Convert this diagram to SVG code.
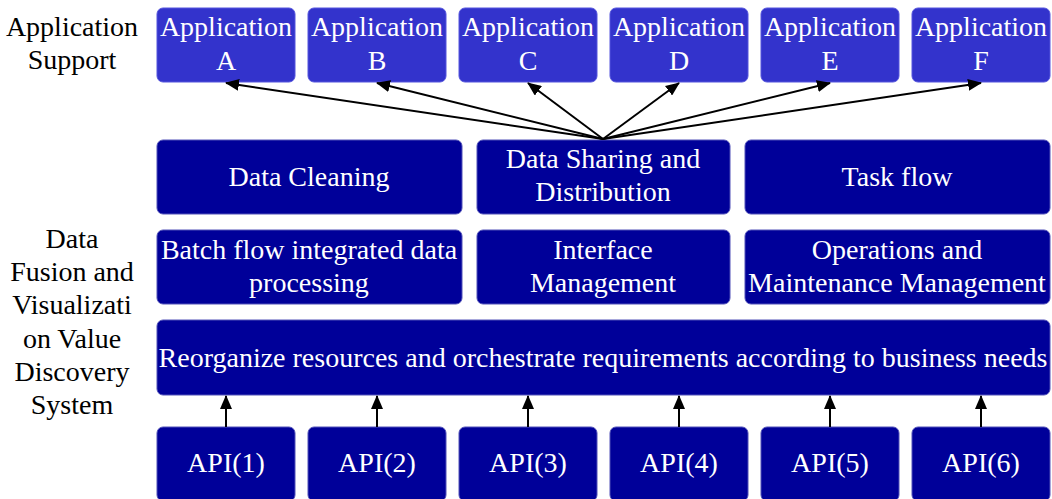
<svg xmlns="http://www.w3.org/2000/svg" width="1052" height="499" viewBox="0 0 1052 499">
<style>
.app{fill:#3333cc;stroke:#5555dd;stroke-width:1}
.blk{fill:#000099;stroke:#5050b8;stroke-width:1}
text{font-family:"Liberation Serif","Times New Roman",serif;font-size:28px;text-anchor:middle}
.t{fill:#ffffff}
.l{fill:#000000}
.c{stroke:#000;stroke-width:2;fill:none;marker-end:url(#ah)}
</style>
<defs>
<marker id="ah" viewBox="0 0 14 12" refX="13" refY="6" markerWidth="14" markerHeight="12" markerUnits="userSpaceOnUse" orient="auto">
<path d="M0,0 L14,6 L0,12 Z" fill="#000"/>
</marker>
</defs>
<g id="label-app-support">
<text class="l" x="72" y="36">Application</text>
<text class="l" x="72" y="69">Support</text>
</g>
<g id="label-data-fusion">
<text class="l" x="72" y="248">Data</text>
<text class="l" x="72" y="281">Fusion and</text>
<text class="l" x="72" y="314">Visualizati</text>
<text class="l" x="72" y="348">on Value</text>
<text class="l" x="72" y="381">Discovery</text>
<text class="l" x="72" y="414">System</text>
</g>
<g id="app-a"><rect class="app" x="157" y="8" width="138" height="74" rx="6"/><text class="t" x="226" y="36">Application</text><text class="t" x="226" y="70">A</text></g>
<g id="app-b"><rect class="app" x="308" y="8" width="138" height="74" rx="6"/><text class="t" x="377" y="36">Application</text><text class="t" x="377" y="70">B</text></g>
<g id="app-c"><rect class="app" x="459" y="8" width="138" height="74" rx="6"/><text class="t" x="528" y="36">Application</text><text class="t" x="528" y="70">C</text></g>
<g id="app-d"><rect class="app" x="610" y="8" width="138" height="74" rx="6"/><text class="t" x="679" y="36">Application</text><text class="t" x="679" y="70">D</text></g>
<g id="app-e"><rect class="app" x="761" y="8" width="138" height="74" rx="6"/><text class="t" x="830" y="36">Application</text><text class="t" x="830" y="70">E</text></g>
<g id="app-f"><rect class="app" x="912" y="8" width="138" height="74" rx="6"/><text class="t" x="981" y="36">Application</text><text class="t" x="981" y="70">F</text></g>
<g id="data-cleaning"><rect class="blk" x="157" y="140" width="305" height="74" rx="6"/><text class="t" x="309" y="186">Data Cleaning</text></g>
<g id="data-sharing"><rect class="blk" x="477" y="140" width="253" height="74" rx="6"/><text class="t" x="603" y="168">Data Sharing and</text><text class="t" x="603" y="201">Distribution</text></g>
<g id="task-flow"><rect class="blk" x="745" y="140" width="305" height="74" rx="6"/><text class="t" x="897" y="186">Task flow</text></g>
<g id="batch-flow"><rect class="blk" x="157" y="230" width="305" height="74" rx="6"/><text class="t" x="309" y="259">Batch flow integrated data</text><text class="t" x="309" y="292">processing</text></g>
<g id="interface-mgmt"><rect class="blk" x="477" y="230" width="253" height="74" rx="6"/><text class="t" x="603" y="259">Interface</text><text class="t" x="603" y="292">Management</text></g>
<g id="ops-mgmt"><rect class="blk" x="745" y="230" width="305" height="74" rx="6"/><text class="t" x="897" y="259">Operations and</text><text class="t" x="897" y="292">Maintenance Management</text></g>
<g id="reorganize"><rect class="blk" x="157" y="320" width="893" height="75" rx="6"/><text class="t" x="603" y="367">Reorganize resources and orchestrate requirements according to business needs</text></g>
<g id="api-1"><rect class="blk" x="157" y="427" width="138" height="74" rx="6"/><text class="t" x="226" y="472">API(1)</text></g>
<g id="api-2"><rect class="blk" x="308" y="427" width="138" height="74" rx="6"/><text class="t" x="377" y="472">API(2)</text></g>
<g id="api-3"><rect class="blk" x="459" y="427" width="138" height="74" rx="6"/><text class="t" x="528" y="472">API(3)</text></g>
<g id="api-4"><rect class="blk" x="610" y="427" width="138" height="74" rx="6"/><text class="t" x="679" y="472">API(4)</text></g>
<g id="api-5"><rect class="blk" x="761" y="427" width="138" height="74" rx="6"/><text class="t" x="830" y="472">API(5)</text></g>
<g id="api-6"><rect class="blk" x="912" y="427" width="138" height="74" rx="6"/><text class="t" x="981" y="472">API(6)</text></g>
<g id="connectors">
<line class="c" x1="603" y1="139" x2="226" y2="83"/>
<line class="c" x1="603" y1="139" x2="377" y2="83"/>
<line class="c" x1="603" y1="139" x2="528" y2="83"/>
<line class="c" x1="603" y1="139" x2="679" y2="83"/>
<line class="c" x1="603" y1="139" x2="830" y2="83"/>
<line class="c" x1="603" y1="139" x2="981" y2="83"/>
<line class="c" x1="226" y1="427" x2="226" y2="396"/>
<line class="c" x1="377" y1="427" x2="377" y2="396"/>
<line class="c" x1="528" y1="427" x2="528" y2="396"/>
<line class="c" x1="679" y1="427" x2="679" y2="396"/>
<line class="c" x1="830" y1="427" x2="830" y2="396"/>
<line class="c" x1="981" y1="427" x2="981" y2="396"/>
</g>
</svg>
